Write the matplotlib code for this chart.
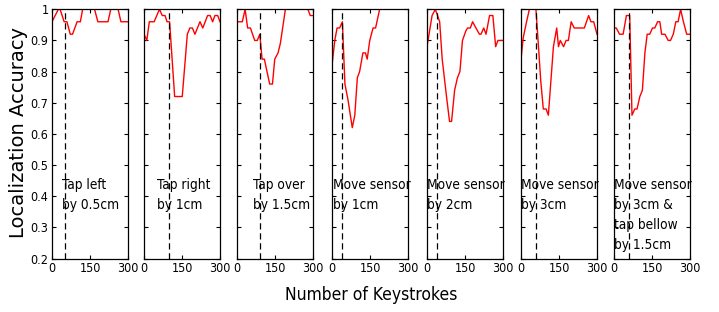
import numpy as np
import matplotlib
matplotlib.use("Agg")
import matplotlib.pyplot as plt

plt.rcParams.update({
    "font.family": ["DejaVu Sans"],
    "font.stretch": "condensed",
    "font.size": 10,
})

# keystroke positions and accuracy for each panel
x1 = [0, 25, 32, 48, 59, 72, 81, 99, 112, 121, 168, 181, 221, 232, 261, 272, 300]
y1 = [0.96, 1.0, 1.0, 0.96, 0.96, 0.92, 0.92, 0.96, 0.96, 1.0, 1.0, 0.96, 0.96, 1.0, 1.0, 0.96, 0.96]

x2 = [0, 11, 21, 40, 61, 72, 83, 91, 101, 121, 151, 171, 181, 191, 201, 221, 232, 251, 261, 271, 280, 291, 300]
y2 = [0.92, 0.90, 0.96, 0.96, 1.0, 0.98, 0.98, 0.96, 0.96, 0.72, 0.72, 0.92, 0.94, 0.94, 0.92, 0.96, 0.94,
      0.98, 0.98, 0.96, 0.98, 0.98, 0.96]

x3 = [0, 21, 32, 42, 53, 70, 80, 90, 99, 108, 129, 140, 149, 162, 171, 182, 191, 280, 289, 300]
y3 = [0.96, 0.96, 1.0, 0.94, 0.94, 0.90, 0.90, 0.92, 0.84, 0.84, 0.76, 0.76, 0.84, 0.86, 0.89, 0.95,
      1.0, 1.0, 0.98, 0.98]

x4 = [0, 11, 20, 30, 41, 51, 63, 80, 90, 100, 109, 122, 132, 139, 149, 162, 172, 188, 300]
y4 = [0.82, 0.90, 0.94, 0.94, 0.96, 0.76, 0.71, 0.62, 0.66, 0.78, 0.80, 0.86, 0.86, 0.84, 0.90, 0.94,
      0.94, 1.0, 1.0]

x5 = [0, 20, 33, 50, 60, 77, 89, 97, 109, 120, 130, 140, 153, 160, 171, 180, 193, 207, 213, 224, 233,
      247, 260, 271, 280, 300]
y5 = [0.88, 0.98, 1.0, 0.96, 0.84, 0.72, 0.64, 0.64, 0.74, 0.78, 0.80, 0.90, 0.93, 0.94, 0.94, 0.96,
      0.94, 0.92, 0.92, 0.94, 0.92, 0.98, 0.98, 0.88, 0.90, 0.90]

x6 = [0, 9, 22, 33, 59, 69, 78, 88, 99, 108, 118, 128, 141, 148, 155, 168, 178, 187, 198, 210, 250,
      267, 276, 287, 300]
y6 = [0.84, 0.91, 0.96, 1.0, 1.0, 0.88, 0.77, 0.68, 0.68, 0.66, 0.77, 0.88, 0.94, 0.88, 0.90, 0.88,
      0.90, 0.90, 0.96, 0.94, 0.94, 0.98, 0.96, 0.96, 0.92]

x7 = [0, 9, 22, 36, 49, 62, 71, 82, 91, 102, 112, 122, 131, 141, 152, 161, 172, 181, 188, 201, 214,
      223, 234, 244, 253, 263, 274, 287, 300]
y7 = [0.94, 0.94, 0.92, 0.92, 0.98, 0.98, 0.66, 0.68, 0.68, 0.72, 0.74, 0.86, 0.92, 0.92, 0.94, 0.94,
      0.96, 0.96, 0.92, 0.92, 0.90, 0.90, 0.92, 0.96, 0.96, 1.0, 0.96, 0.92, 0.92]

xs = [x1, x2, x3, x4, x5, x6, x7]
ys = [y1, y2, y3, y4, y5, y6, y7]
change_points = [50, 100, 90, 40, 40, 60, 60]
labels = [
    "Tap left\nby 0.5cm",
    "Tap right\nby 1cm",
    "Tap over\nby 1.5cm",
    "Move sensor\nby 1cm",
    "Move sensor\nby 2cm",
    "Move sensor\nby 3cm",
    "Move sensor\nby 3cm &\ntap bellow\nby 1.5cm",
]
label_x = [38, 50, 62, 2, 0, 0, 0]

W, H = 719, 312
fig = plt.figure(figsize=(W / 100, H / 100), dpi=100)

lefts = [52, 144, 237, 332, 427, 521, 614]
ax_w = 76
bottom_px, top_px = 258.5, 9.3

for i in range(7):
    ax = fig.add_axes([lefts[i] / W, (H - bottom_px) / H, ax_w / W, (bottom_px - top_px) / H])
    ax.plot(xs[i], ys[i], color="red", lw=1)
    ax.axvline(change_points[i], color="black", ls=(0, (5, 3)), lw=0.9)
    ax.set_xlim(0, 300)
    ax.set_ylim(0.2, 1.0)
    ax.set_xticks([0, 150, 300])
    ax.set_yticks(np.arange(0.2, 1.01, 0.1))
    ax.tick_params(direction="in", top=True, right=True, length=3, labelsize=9, pad=2.5)
    if i == 0:
        ax.set_yticklabels(["0.2", "0.3", "0.4", "0.5", "0.6", "0.7", "0.8", "0.9", "1"])
    else:
        ax.set_yticklabels([])
    ax.text(label_x[i], 0.46, labels[i], fontsize=9.8, va="top", ha="left", linespacing=1.55)
    for s in ax.spines.values():
        s.set_linewidth(0.9)

fig.text(19 / W, 1 - 133 / H, "Localization Accuracy", rotation=90, ha="center", va="center",
         fontsize=14, fontstretch="normal")
fig.text(371 / W, 1 - 295 / H, "Number of Keystrokes", ha="center", va="center", fontsize=12.5)

fig.savefig("out.png", dpi=100)
